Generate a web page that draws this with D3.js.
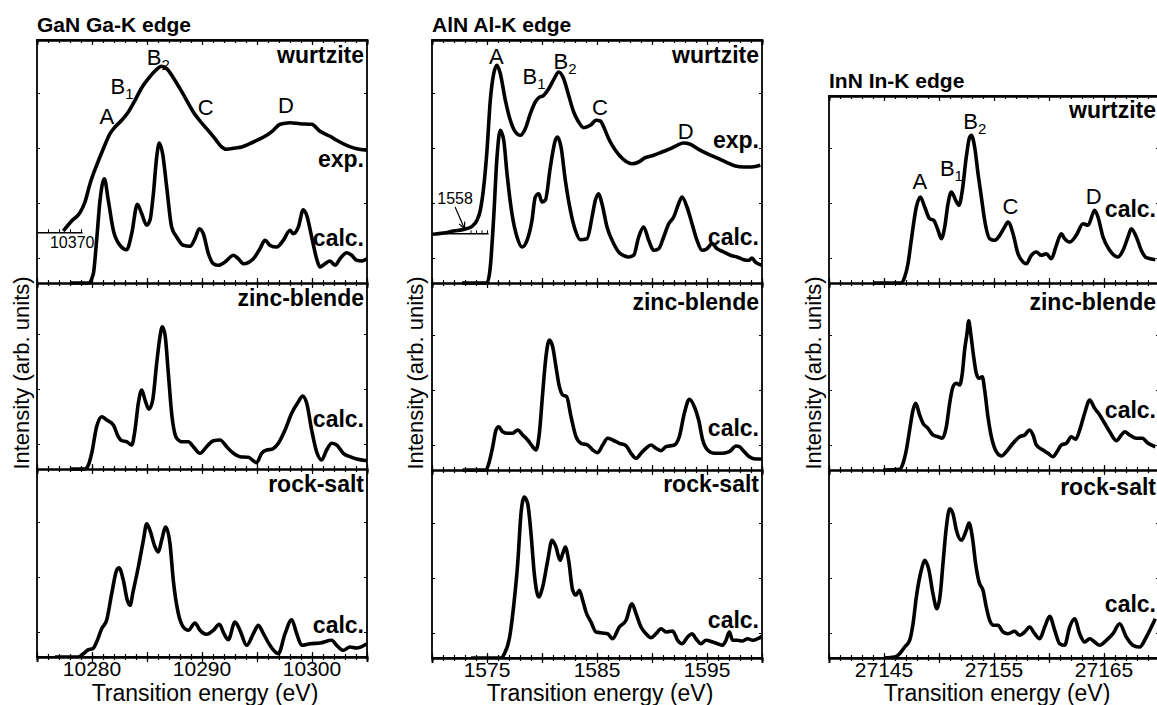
<!DOCTYPE html>
<html>
<head>
<meta charset="utf-8">
<script src="https://cdn.jsdelivr.net/npm/d3@7"></script>
<style>
body { margin: 0; background: #fff; }
text { font-family: "Liberation Sans", Arial, sans-serif; fill: #000; }
</style>
</head>
<body>
<script>
// ---- data (energy in eV, intensity in arb. units) ----
const ganTicks = [10280, 10290, 10300];
const alnTicks = [1575, 1585, 1595];
const innTicks = [27145, 27155, 27165];

const ganExp = [[10277.39,5.2],[10278.15,6.2],[10278.91,7.03],[10279.36,8.1],[10279.82,9.93],[10280.42,11.77],[10281.03,13.43],[10281.64,14.93],[10282.09,15.6],[10282.7,16.27],[10283.3,17.1],[10283.91,18.27],[10284.52,19.53],[10285.12,20.43],[10285.73,21.2],[10286.33,21.67],[10286.79,21.43],[10287.39,20.53],[10288,19.43],[10288.6,18.27],[10289.21,17.1],[10289.82,16.2],[10290.42,15.43],[10291.18,14.43],[10291.79,13.6],[10292.24,13.37],[10293,13.5],[10293.61,13.6],[10294.36,13.93],[10295.12,14.33],[10295.88,14.77],[10296.48,15.27],[10297.09,15.87],[10298,16.03],[10298.91,15.93],[10299.97,15.87],[10300.73,15.17],[10301.64,14.67],[10302.24,14.27],[10303.15,13.77],[10304.06,13.43],[10305,13.27]];
const ganWz = [[10278,0],[10279.67,0],[10280.12,0.93],[10280.42,4.27],[10280.73,8.27],[10281.12,10.43],[10281.48,8.27],[10281.94,5.27],[10282.55,3.77],[10283.15,3.33],[10283.61,4.93],[10284.12,7.87],[10284.52,6.93],[10284.97,5.77],[10285.27,6.27],[10285.58,8.93],[10285.88,12.6],[10286.12,14.0],[10286.42,12.93],[10286.79,9.6],[10287.24,5.6],[10287.7,4.6],[10288.3,3.77],[10288.91,3.67],[10289.36,4.43],[10289.76,5.43],[10290.12,4.93],[10290.58,2.93],[10291.03,1.93],[10291.48,1.77],[10292.09,2.1],[10292.85,2.77],[10293.3,2.43],[10293.76,1.93],[10294.67,2.43],[10295.27,3.43],[10295.73,4.27],[10296.18,3.77],[10296.79,3.6],[10297.39,4.27],[10298,5.27],[10298.3,4.93],[10298.76,5.6],[10299.21,7.33],[10299.52,6.77],[10299.97,4.6],[10300.42,2.43],[10300.73,1.6],[10301.18,1.93],[10301.64,2.2],[10302.09,1.77],[10302.55,2.43],[10303.15,3.03],[10303.61,2.77],[10304.06,2.27],[10304.52,2.2],[10305,2.43]];
const ganZb = [[10278,0],[10279.36,0],[10279.67,0.4],[10279.97,1.57],[10280.42,4.23],[10280.88,5.23],[10281.33,4.9],[10281.94,4.4],[10282.39,3.23],[10282.7,2.83],[10283.15,2.73],[10283.61,2.4],[10283.91,3.9],[10284.21,6.57],[10284.52,7.9],[10284.82,6.9],[10285.18,5.97],[10285.52,6.9],[10285.88,10.57],[10286.18,13.23],[10286.39,14.23],[10286.64,13.4],[10286.94,9.57],[10287.24,5.57],[10287.7,3.07],[10288.15,2.73],[10288.76,2.73],[10289.21,2.23],[10289.82,1.57],[10290.42,2.23],[10291.03,2.83],[10291.64,2.9],[10292.24,2.23],[10292.85,1.57],[10293.45,1.23],[10294.21,1.17],[10294.97,0.63],[10295.42,1.57],[10295.88,1.9],[10296.33,1.97],[10296.94,2.57],[10297.55,3.9],[10298.15,5.57],[10298.76,6.73],[10299.15,7.3],[10299.52,6.57],[10299.97,3.9],[10300.42,1.73],[10300.88,0.9],[10301.33,1.9],[10301.79,2.57],[10302.24,2.4],[10302.85,1.57],[10303.45,1.23],[10304.06,1.0],[10305,0.83]];
const ganRs = [[10276.64,0],[10278.76,0],[10279.21,0.33],[10279.67,0.73],[10280.06,0.83],[10280.42,1.5],[10280.88,2.83],[10281.33,3.67],[10281.79,6.33],[10282.24,8.67],[10282.45,8.93],[10282.85,7.67],[10283.21,5.67],[10283.45,5.17],[10283.76,6.67],[10284.21,9.0],[10284.67,11.67],[10284.97,13.33],[10285.27,12.67],[10285.73,11.0],[10286.03,10.5],[10286.33,11.67],[10286.7,13.0],[10287.09,11.33],[10287.39,7.67],[10287.85,4.33],[10288.3,3.0],[10288.76,2.67],[10289.36,3.4],[10289.82,2.67],[10290.42,2.27],[10291.03,2.67],[10291.58,3.27],[10292,2.33],[10292.39,1.73],[10293,3.5],[10293.45,2.67],[10294.06,1.17],[10294.67,2.33],[10295.12,3.17],[10295.58,2.33],[10296.18,1.17],[10296.94,0.33],[10297.55,2.33],[10298.15,3.73],[10298.61,2.33],[10299.06,1.17],[10299.82,1.33],[10300.73,1.4],[10301.79,1.67],[10302.24,1.17],[10302.85,0.67],[10303.45,1.0],[10304.06,0.9],[10305,1.33]];

const alnExp = [[1570,4.87],[1571.06,5.0],[1571.97,5.2],[1572.94,5.37],[1573.64,5.67],[1574.09,6.27],[1574.39,7.27],[1574.7,9.6],[1575,13.27],[1575.3,18.27],[1575.61,20.93],[1575.91,21.77],[1576.21,20.93],[1576.67,18.27],[1577.12,16.27],[1577.58,15.1],[1578.03,14.77],[1578.48,15.43],[1578.94,16.93],[1579.39,18.1],[1579.7,18.53],[1580.15,18.77],[1580.61,19.43],[1581.06,20.33],[1581.52,21.1],[1581.97,20.43],[1582.42,18.77],[1582.88,17.1],[1583.33,16.1],[1583.79,15.53],[1584.39,15.77],[1584.94,16.27],[1585.3,16.2],[1585.61,15.6],[1586.06,14.43],[1586.67,13.27],[1587.42,12.33],[1588.18,11.93],[1588.79,12.1],[1589.39,12.53],[1590.15,12.77],[1590.91,13.1],[1591.67,13.43],[1592.27,13.77],[1592.88,14.0],[1593.48,13.87],[1594.24,13.37],[1595.15,12.87],[1596.06,12.43],[1596.82,12.03],[1597.58,11.7],[1598.33,11.6],[1599.09,11.6],[1599.85,11.77]];
const alnWz = [[1572.73,0],[1575,0],[1575.3,1.6],[1575.61,6.6],[1575.91,12.6],[1576.21,15.27],[1576.52,14.27],[1576.82,10.93],[1577.27,6.93],[1577.73,4.6],[1578.18,3.6],[1578.64,4.27],[1579.09,6.27],[1579.39,8.6],[1579.7,8.93],[1580,8.1],[1580.3,8.27],[1580.76,11.6],[1581.21,14.27],[1581.42,14.6],[1581.73,13.6],[1582.12,10.27],[1582.58,7.27],[1583.03,5.27],[1583.48,4.33],[1584.09,4.43],[1584.55,6.6],[1584.85,8.27],[1585.15,8.93],[1585.45,7.93],[1585.91,5.6],[1586.52,3.93],[1587.12,2.93],[1587.88,2.6],[1588.33,2.77],[1588.79,4.6],[1589.24,5.6],[1589.7,4.27],[1590.15,3.27],[1590.61,3.43],[1591.06,4.6],[1591.52,5.93],[1591.97,6.6],[1592.42,7.93],[1592.73,8.6],[1593.18,7.6],[1593.64,5.93],[1594.09,4.27],[1594.55,3.27],[1595,3.43],[1595.45,3.93],[1595.91,3.43],[1596.52,3.1],[1597.12,2.77],[1597.73,2.6],[1598.33,2.33],[1598.79,2.27],[1599.09,2.5],[1599.39,2.1],[1600,1.77]];
const alnZb = [[1572.79,0],[1574.91,0],[1575.21,0.83],[1575.52,2.33],[1575.82,4.0],[1576.06,4.33],[1576.42,3.83],[1576.88,3.67],[1577.33,3.67],[1577.79,4.0],[1578.24,3.5],[1578.7,3.0],[1579.15,2.33],[1579.45,2.0],[1579.76,3.67],[1580.06,7.67],[1580.36,11.33],[1580.67,13.0],[1580.97,12.33],[1581.27,10.33],[1581.58,8.33],[1581.88,7.5],[1582.24,7.33],[1582.64,5.33],[1583.09,3.33],[1583.55,2.67],[1584.15,2.5],[1584.61,2.0],[1585.06,1.73],[1585.52,2.5],[1585.97,3.17],[1586.42,3.0],[1587.03,2.67],[1587.64,2.43],[1588.09,1.67],[1588.55,1.17],[1589,1.67],[1589.45,2.17],[1589.91,2.5],[1590.36,2.17],[1590.82,1.93],[1591.27,2.33],[1592.03,2.5],[1592.48,3.33],[1592.94,5.67],[1593.39,7.07],[1593.85,6.33],[1594.24,5.0],[1594.61,3.0],[1595.06,2.0],[1595.67,1.67],[1596.42,1.67],[1597.03,1.83],[1597.64,2.4],[1597.94,2.33],[1598.39,1.83],[1598.85,1.33],[1599.45,1.1],[1600,1.1]];
const alnRs = [[1573.55,0],[1576.27,0],[1576.58,0.43],[1577.03,1.93],[1577.48,5.77],[1577.79,9.43],[1578.09,14.43],[1578.39,16.1],[1578.7,15.43],[1579,12.43],[1579.3,8.43],[1579.7,6.1],[1580.06,7.1],[1580.52,9.77],[1580.91,11.77],[1581.27,11.1],[1581.64,9.77],[1581.88,10.43],[1582.12,11.1],[1582.42,9.77],[1582.79,6.77],[1583.09,6.27],[1583.39,6.77],[1583.7,5.77],[1584,4.6],[1584.45,3.6],[1584.91,2.6],[1585.52,2.5],[1585.97,2.43],[1586.42,1.93],[1587.03,3.1],[1587.64,3.77],[1588.18,5.43],[1588.55,4.43],[1589,3.1],[1589.45,2.43],[1589.91,2.03],[1590.36,2.43],[1590.82,2.93],[1591.27,2.6],[1591.88,2.7],[1592.33,1.77],[1592.73,1.43],[1593.24,2.1],[1593.64,2.43],[1594,1.93],[1594.45,1.43],[1594.91,1.77],[1595.52,1.6],[1595.97,1.43],[1596.42,1.27],[1596.73,1.77],[1597.03,2.6],[1597.33,1.77],[1597.79,1.77],[1598.24,1.7],[1598.7,1.93],[1599.15,1.77],[1599.61,1.93],[1600,2.17]];

const innWz = [[27144,0],[27146.58,0],[27146.88,0.6],[27147.18,1.93],[27147.48,4.27],[27147.94,7.6],[27148.3,8.6],[27148.7,7.6],[27149.15,6.43],[27149.52,6.27],[27149.91,5.27],[27150.21,4.43],[27150.52,5.6],[27150.82,7.93],[27151.12,9.1],[27151.52,8.27],[27151.82,7.77],[27152.12,9.27],[27152.48,12.6],[27152.79,14.6],[27152.94,14.77],[27153.24,13.6],[27153.55,10.93],[27153.85,8.6],[27154.15,6.27],[27154.61,4.43],[27155.06,4.27],[27155.52,4.77],[27155.97,5.6],[27156.27,6.1],[27156.73,4.93],[27157.18,2.93],[27157.64,2.1],[27157.94,1.93],[27158.39,2.77],[27158.85,3.1],[27159.3,2.77],[27159.76,2.93],[27160.21,2.43],[27160.67,3.77],[27161.12,4.93],[27161.42,4.43],[27161.88,4.1],[27162.48,4.77],[27163.09,5.93],[27163.55,5.77],[27164.15,7.27],[27164.45,6.6],[27164.91,4.6],[27165.52,3.27],[27166.27,2.6],[27166.73,3.27],[27167.18,4.6],[27167.48,5.43],[27167.94,4.6],[27168.39,3.27],[27168.85,2.53],[27169.67,2.33]];
const innZb = [[27144.91,0],[27146.42,0.07],[27146.73,0.67],[27147.03,2.0],[27147.33,4.0],[27147.64,6.0],[27147.88,6.67],[27148.24,5.5],[27148.55,4.67],[27149,4.17],[27149.45,3.5],[27149.91,3.33],[27150.3,3.17],[27150.67,4.33],[27150.97,6.67],[27151.27,8.33],[27151.58,8.67],[27151.88,8.5],[27152.12,9.67],[27152.33,12.0],[27152.55,13.67],[27152.7,14.93],[27152.88,13.67],[27153.15,11.33],[27153.39,9.67],[27153.64,9.17],[27153.94,9.33],[27154.15,8.0],[27154.45,5.33],[27154.76,3.33],[27155.21,1.83],[27155.67,1.4],[27156.12,1.83],[27156.73,2.67],[27157.33,3.33],[27157.79,3.5],[27158.24,4.0],[27158.55,3.5],[27158.85,2.5],[27159.45,2.0],[27159.91,1.67],[27160.36,1.33],[27160.73,1.83],[27161.12,2.5],[27161.58,2.67],[27162.03,3.33],[27162.42,3.07],[27162.79,4.0],[27163.24,5.67],[27163.7,7.0],[27164.15,6.17],[27164.61,5.5],[27165.06,4.67],[27165.52,3.83],[27166.12,2.93],[27166.58,3.5],[27166.88,3.83],[27167.33,3.5],[27167.94,3.17],[27168.48,3.17],[27169,2.67],[27169.67,2.33]];
const innRs = [[27145.06,0],[27145.97,0.1],[27146.42,0.43],[27146.88,1.1],[27147.33,1.77],[27147.64,3.43],[27147.94,6.1],[27148.39,8.77],[27148.7,9.77],[27149.09,8.77],[27149.45,6.43],[27149.82,4.93],[27150.12,6.43],[27150.36,9.43],[27150.67,13.1],[27150.97,14.93],[27151.27,14.43],[27151.58,12.77],[27152.03,11.77],[27152.48,12.77],[27152.73,13.5],[27153.03,12.1],[27153.33,9.43],[27153.64,7.6],[27154,6.77],[27154.3,5.1],[27154.61,3.77],[27154.97,3.27],[27155.36,3.27],[27155.82,2.6],[27156.27,2.43],[27156.88,2.67],[27157.33,2.27],[27157.79,2.6],[27158.24,3.1],[27158.7,2.43],[27159.15,1.93],[27159.61,3.1],[27160.06,4.17],[27160.52,2.77],[27160.97,1.43],[27161.42,1.27],[27161.88,3.1],[27162.33,3.93],[27162.79,2.43],[27163.24,1.6],[27163.7,1.93],[27164.15,1.6],[27164.61,1.27],[27165.21,1.77],[27165.82,2.43],[27166.42,3.43],[27167.03,2.1],[27167.64,1.27],[27168.24,1.1],[27168.85,2.1],[27169.45,3.43],[27169.67,3.93]];

// peak labels: [letter, subscript, energy, intensity]
const ganPeaks = [["A","",10281.36,15.87],["B","1",10282.73,18.94],["B","2",10286.03,21.77],["C","",10290.33,16.77],["D","",10297.64,17.04]];
const alnPeaks = [["A","",1575.85,21.94],["B","1",1579.27,19.94],["B","2",1582.09,21.44],["C","",1585.27,16.77],["D","",1593.06,14.44]];
const innPeaks = [["A","",27148.25,9.44],["B","1",27151.13,10.67],["B","2",27153.25,15.44],["C","",27156.49,6.94],["D","",27164.06,7.94]];

// ---- layout ----
const W = 1157, H = 705;
const svg = d3.select("body").append("svg")
  .attr("width", W).attr("height", H);

const panels = [
  {title: "GaN Ga-K edge", domain: [10275, 10305], ticks: ganTicks, left: 37, right: 367,
   top: 40, cuts: [283, 469, 657], titleY: 32, ylabX: 29, peaks: ganPeaks,
   subs: [
     {curves: [ganExp, ganWz], labels: [["wurtzite", 63], ["exp.", 167], ["calc.", 246]]},
     {curves: [ganZb], labels: [["zinc-blende", 306], ["calc.", 427]]},
     {curves: [ganRs], labels: [["rock-salt", 492], ["calc.", 633]]}
   ],
   inset: {from: 10275, to: 10279.1, y: 5.07, ticks: [10276, 10277, 10278, 10279], text: "10370", tx: 10278.2, ty: 3.55}},
  {title: "AlN Al-K edge", domain: [1570, 1600], ticks: alnTicks, left: 432, right: 762,
   top: 40, cuts: [283, 470, 658], titleY: 32, ylabX: 423, peaks: alnPeaks,
   subs: [
     {curves: [alnExp, alnWz], labels: [["wurtzite", 63], ["exp.", 148], ["calc.", 245]]},
     {curves: [alnZb], labels: [["zinc-blende", 310], ["calc.", 436]]},
     {curves: [alnRs], labels: [["rock-salt", 492], ["calc.", 628]]}
   ],
   inset: {from: 1570, to: 1575.1, y: 4.97, ticks: [1573.5, 1574, 1574.5, 1575], text: "1558", tx: 1572.1, ty: 7.95,
     arrow: [[1572.1, 7.6], [1572.95, 5.45]]}},
  {title: "InN In-K edge", domain: [27140, 27170], ticks: innTicks, left: 829, right: 1159,
   top: 96, cuts: [283, 470, 658], titleY: 88, ylabX: 821, peaks: innPeaks,
   subs: [
     {curves: [innWz], labels: [["wurtzite", 118], ["calc.", 217]]},
     {curves: [innZb], labels: [["zinc-blende", 310], ["calc.", 418]]},
     {curves: [innRs], labels: [["rock-salt", 495], ["calc.", 612]]}
   ]}
];

const line = d3.line().curve(d3.curveMonotoneX);

panels.forEach((p, pi) => {
  const g = svg.append("g");
  const x = d3.scaleLinear().domain(p.domain).range([p.left, p.right]);
  const edges = [p.top].concat(p.cuts);
  const minor = d3.range(p.domain[0], p.domain[1] + 0.5, 1);
  const major = d3.range(p.domain[0], p.domain[1] + 0.5, 5);

  const clipId = "clip" + pi;
  svg.append("clipPath").attr("id", clipId).append("rect")
    .attr("x", p.left).attr("y", p.top)
    .attr("width", p.right - p.left).attr("height", p.cuts[2] - p.top);

  p.subs.forEach((s, si) => {
    const yTop = edges[si], yBot = edges[si + 1];
    const y = d3.scaleLinear().domain([0, (yBot - yTop) / 10]).range([yBot, yTop]);
    s.y = y;

    // y ticks (unlabelled, inward on both sides)
    const yt = d3.range(2.5, (yBot - yTop) / 10 - 1, 5.5);
    g.append("g").attr("transform", `translate(${p.left},0)`)
      .call(d3.axisRight(y).tickValues(yt).tickSize(3).tickFormat(""))
      .call(a => a.select(".domain").remove());
    g.append("g").attr("transform", `translate(${p.right},0)`)
      .call(d3.axisLeft(y).tickValues(yt).tickSize(3).tickFormat(""))
      .call(a => a.select(".domain").remove());

    s.curves.forEach(c => {
      g.append("path")
        .attr("clip-path", `url(#${clipId})`)
        .attr("d", line.x(d => x(d[0])).y(d => y(d[1]))(c))
        .attr("fill", "none")
        .attr("stroke", "#000")
        .attr("stroke-width", 3.6)
        .attr("stroke-linejoin", "round");
    });

    s.labels.forEach(l => {
      g.append("text")
        .attr("x", p.right - 3).attr("y", l[1])
        .attr("text-anchor", "end")
        .style("font-weight", "bold")
        .style("font-size", "23px")
        .text(l[0]);
    });
  });

  // frame
  g.append("rect")
    .attr("x", p.left).attr("y", p.top)
    .attr("width", p.right - p.left).attr("height", p.cuts[2] - p.top)
    .attr("fill", "none").attr("stroke", "#000").attr("stroke-width", 1.8);

  // horizontal axes: top, the two dividers, bottom
  edges.forEach((ey, ei) => {
    const both = ei > 0;
    [[minor, 3], [major, 5]].forEach(([vals, len]) => {
      g.append("g").attr("transform", `translate(0,${ey})`)
        .call(d3.axisBottom(x).tickValues(vals).tickSize(len).tickFormat(""))
        .call(a => a.select(".domain").attr("stroke-width", 1.8))
        .call(a => a.selectAll(".tick line")
          .attr("y1", both ? -len : 0).attr("y2", len).attr("stroke-width", 1.2));
    });
  });

  // tick labels
  g.selectAll(".tlab").data(p.ticks).enter().append("text")
    .attr("x", d => x(d)).attr("y", p.cuts[2] + 18.5)
    .attr("text-anchor", "middle")
    .style("font-size", "21px")
    .text(d => d);

  g.append("text")
    .attr("x", (p.left + p.right) / 2 + 3).attr("y", 701)
    .attr("text-anchor", "middle")
    .style("font-size", "23px")
    .text("Transition energy (eV)");

  g.append("text")
    .attr("transform", `translate(${p.ylabX},373) rotate(-90)`)
    .attr("text-anchor", "middle")
    .style("font-size", "22px")
    .text("Intensity (arb. units)");

  g.append("text")
    .attr("x", p.left).attr("y", p.titleY)
    .style("font-weight", "bold")
    .style("font-size", "21px")
    .text(p.title);

  // peak labels in the top sub-panel
  const y0 = p.subs[0].y;
  p.peaks.forEach(pk => {
    const t = g.append("text")
      .attr("x", x(pk[2])).attr("y", y0(pk[3]))
      .attr("text-anchor", "middle")
      .style("font-size", "22px")
      .text(pk[0]);
    if (pk[1]) t.append("tspan").attr("dy", 5).style("font-size", "15px").text(pk[1]);
  });

  // inset energy scale of the experiment
  if (p.inset) {
    const ins = p.inset;
    const xi = d3.scaleLinear().domain([ins.from, ins.to]).range([x(ins.from), x(ins.to)]);
    g.append("g").attr("transform", `translate(0,${y0(ins.y)})`)
      .call(d3.axisTop(xi).tickValues(ins.ticks).tickSize(3).tickSizeOuter(0).tickFormat(""))
      .call(a => a.select(".domain").attr("stroke-width", 1.4));
    g.append("text")
      .attr("x", x(ins.tx)).attr("y", y0(ins.ty))
      .attr("text-anchor", "middle")
      .style("font-size", "16px")
      .text(ins.text);
    if (ins.arrow) {
      const [a, b] = ins.arrow.map(d => [x(d[0]), y0(d[1])]);
      g.append("line").attr("x1", a[0]).attr("y1", a[1]).attr("x2", b[0]).attr("y2", b[1])
        .attr("stroke", "#000").attr("stroke-width", 1.2);
      const ang = Math.atan2(b[1] - a[1], b[0] - a[0]);
      const hl = 7;
      [0.45, -0.45].forEach(da => {
        g.append("line").attr("x1", b[0]).attr("y1", b[1])
          .attr("x2", b[0] - hl * Math.cos(ang + da)).attr("y2", b[1] - hl * Math.sin(ang + da))
          .attr("stroke", "#000").attr("stroke-width", 1.2);
      });
    }
  }
});
</script>
</body>
</html>
